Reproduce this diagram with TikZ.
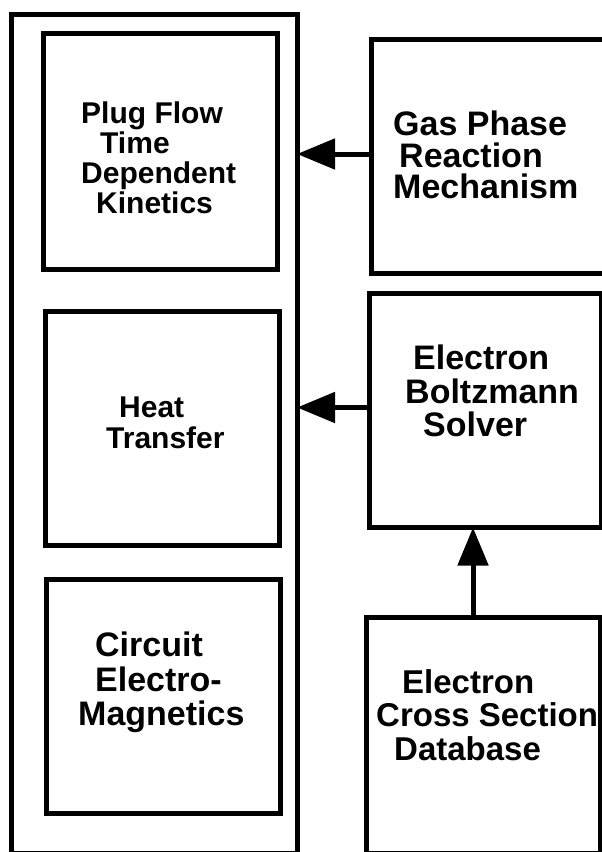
\documentclass[tikz,border=0pt]{standalone}
\usepackage{fontspec}
\setmainfont{Liberation Sans}
\usetikzlibrary{arrows.meta}

\begin{document}
\begin{tikzpicture}[x=1pt, y=-1pt,
  box/.style={draw, line width=5pt, inner sep=0pt, outer sep=0pt, minimum width=234pt, minimum height=234pt},
  txt/.style args={#1/#2}{anchor=north west, inner sep=0pt, align=left, font=\bfseries\fontsize{#1}{#2}\selectfont},
  flow/.style={line width=5pt, -{Triangle[length=38pt, width=30pt]}}]
  \useasboundingbox (0,0) rectangle (602,852);
  \clip (0,0) rectangle (602,852);
  \node[box, minimum width=286pt, minimum height=839pt] (frame) at (154,433.5) {};
  \node[box, minimum height=235.5pt] (plug) at (160.5,151.25) {};
  \node[box] (heat) at (162,428.5) {};
  \node[box] (circuit) at (163,696) {};
  \node[box] (gas) at (488.5,156) {};
  \node[box, minimum width=232pt] (boltz) at (485,410.5) {};
  \node[box, minimum height=236pt] (cross) at (483,735) {};
  \node[txt=30/30] (plugtxt) at (81,102) {Plug Flow\\\hspace*{19pt}Time\\Dependent\\\hspace*{15pt}Kinetics};
  \node[txt=30/31] (heattxt) at (106,397) {\hspace*{13pt}Heat\\Transfer};
  \node[txt=34/34.5] (circuittxt) at (78,632) {\hspace*{17pt}Circuit\\\hspace*{17pt}Electro-\\Magnetics};
  \node[txt=34/31.5] (gastxt) at (393,111) {Gas Phase\\\hspace*{6pt}Reaction\\Mechanism};
  \node[txt=34/33.5] (boltztxt) at (405,345) {\hspace*{8pt}Electron\\Boltzmann\\\hspace*{18pt}Solver};
  \node[txt=33/33.5] (crosstxt) at (376,669) {\hspace*{26pt}Electron\\Cross Section\\\hspace*{18pt}Database};
  \draw[flow] ([yshift=2pt]gas.west) -- ([yshift=2pt]gas.west -| frame.east);
  \draw[flow] ([yshift=3pt]boltz.west) -- ([yshift=3pt]boltz.west -| frame.east);
  \draw[flow] ([xshift=-10pt]cross.north) -- ([xshift=-10pt]cross.north |- boltz.south);
\end{tikzpicture}
\end{document}
